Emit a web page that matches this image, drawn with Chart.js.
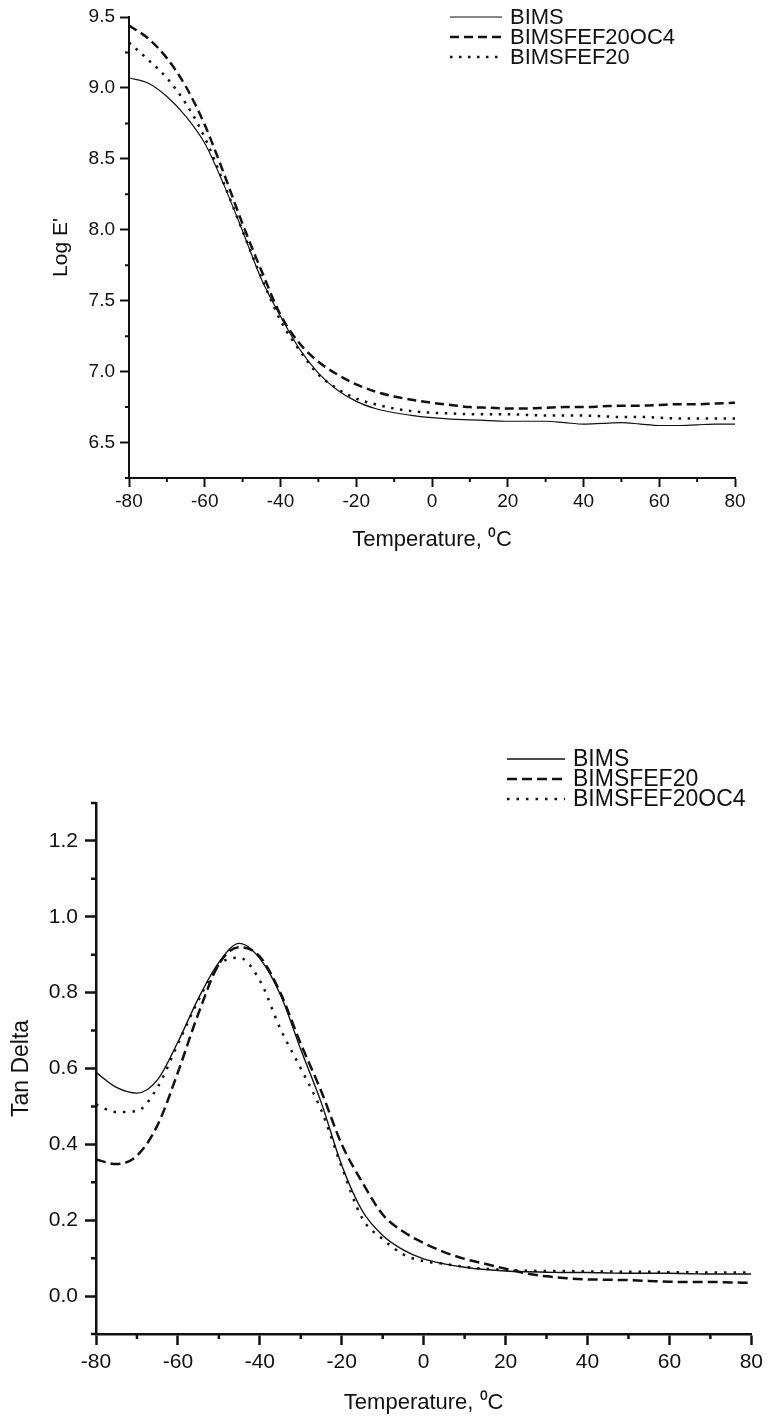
<!DOCTYPE html>
<html>
<head>
<meta charset="utf-8">
<script src="https://cdn.jsdelivr.net/npm/chart.js@4.4.1/dist/chart.umd.min.js"></script>
<style>
  html, body { margin: 0; padding: 0; background: #fff; }
  #wrap { position: relative; width: 768px; height: 1418px; }
  canvas { position: absolute; left: 0; }
  #modulus { top: 0; }
  #tandelta { top: 560px; }
</style>
</head>
<body>
<div id="wrap">
  <canvas id="modulus" width="768" height="553"></canvas>
  <canvas id="tandelta" width="768" height="856"></canvas>
</div>
<script>
// temperature grid, deg C
const temps = [-80, -75, -70, -65, -60, -55, -50, -45, -40, -35, -30, -25, -20, -15, -10, -5,
  0, 5, 10, 15, 20, 25, 30, 35, 40, 45, 50, 55, 60, 65, 70, 75, 80];

// storage modulus, log E'
const logE_BIMS = [9.07, 9.035, 8.94, 8.80, 8.61, 8.32, 7.99, 7.65, 7.39, 7.16, 6.99, 6.87, 6.79,
  6.74, 6.71, 6.69, 6.675, 6.665, 6.66, 6.655, 6.65, 6.65, 6.65, 6.64, 6.63, 6.635, 6.64, 6.63,
  6.62, 6.62, 6.625, 6.63, 6.63];
const logE_OC4 = [9.44, 9.35, 9.21, 9.01, 8.74, 8.40, 8.04, 7.71, 7.40, 7.20, 7.07, 6.98, 6.91,
  6.86, 6.825, 6.80, 6.78, 6.765, 6.75, 6.745, 6.74, 6.74, 6.745, 6.75, 6.75, 6.755, 6.76, 6.76,
  6.765, 6.77, 6.77, 6.775, 6.78];
const logE_FEF20 = [9.32, 9.20, 9.07, 8.89, 8.65, 8.33, 7.99, 7.66, 7.36, 7.15, 6.98, 6.88, 6.81,
  6.77, 6.74, 6.72, 6.71, 6.705, 6.70, 6.70, 6.70, 6.695, 6.69, 6.69, 6.69, 6.685, 6.68, 6.68,
  6.675, 6.67, 6.67, 6.67, 6.67];

// loss factor, tan delta
const tan_BIMS = [0.59, 0.55, 0.535, 0.57, 0.67, 0.785, 0.88, 0.93, 0.89, 0.795, 0.65, 0.51, 0.345,
  0.225, 0.16, 0.122, 0.098, 0.085, 0.076, 0.07, 0.066, 0.064, 0.063, 0.062, 0.062, 0.061, 0.06,
  0.06, 0.06, 0.059, 0.058, 0.058, 0.058];
const tan_FEF20 = [0.36, 0.348, 0.37, 0.45, 0.59, 0.745, 0.875, 0.92, 0.895, 0.80, 0.665, 0.54,
  0.40, 0.30, 0.215, 0.17, 0.14, 0.116, 0.098, 0.085, 0.072, 0.06, 0.052, 0.047, 0.044, 0.043,
  0.042, 0.04, 0.038, 0.037, 0.037, 0.036, 0.035];
const tan_OC4 = [0.505, 0.485, 0.488, 0.55, 0.665, 0.78, 0.873, 0.892, 0.832, 0.705, 0.60, 0.49,
  0.34, 0.205, 0.15, 0.11, 0.092, 0.085, 0.077, 0.072, 0.069, 0.067, 0.066, 0.066, 0.065, 0.065,
  0.064, 0.064, 0.063, 0.063, 0.062, 0.062, 0.062];

// axis tick labels
const tempTicks = [-80, -60, -40, -20, 0, 20, 40, 60, 80];
const logETicks = [6.5, 7.0, 7.5, 8.0, 8.5, 9.0, 9.5];
const tanTicks = [0.0, 0.2, 0.4, 0.6, 0.8, 1.0, 1.2];

const FONT = '"Liberation Sans", Arial, Helvetica, sans-serif';
const INK = '#111';

function points(ys) {
  return temps.map((t, i) => ({ x: t, y: ys[i] }));
}

function series(label, ys, dash, width) {
  return {
    label: label,
    data: points(ys),
    borderColor: INK,
    borderWidth: width,
    borderDash: dash,
    pointRadius: 0,
    fill: false,
    cubicInterpolationMode: 'monotone'
  };
}

// short unlabelled ticks half way between the labelled ones
const minorTicks = {
  id: 'minorTicks',
  afterDraw(chart, args, opts) {
    const ctx = chart.ctx;
    const xs = chart.scales.x, ys = chart.scales.y;
    ctx.save();
    ctx.strokeStyle = INK;
    ctx.lineWidth = opts.width;
    ctx.beginPath();
    const half = (list) => {
      const step = (list[1] - list[0]) / 2;
      const out = [];
      list.forEach(v => { out.push(v - step); out.push(v + step); });
      return out.filter((v, i) => out.indexOf(v) === i);
    };
    half(opts.xMajor).forEach(v => {
      if (v < xs.min - 1e-9 || v > xs.max + 1e-9) return;
      const px = xs.getPixelForValue(v);
      ctx.moveTo(px, xs.top);
      ctx.lineTo(px, xs.top + opts.length);
    });
    half(opts.yMajor).forEach(v => {
      if (v < ys.min - 1e-9 || v > ys.max + 1e-9) return;
      const py = ys.getPixelForValue(v);
      ctx.moveTo(ys.right, py);
      ctx.lineTo(ys.right - opts.length, py);
    });
    ctx.stroke();
    ctx.restore();
  }
};

// line-style key in the upper right
const lineKey = {
  id: 'lineKey',
  afterDraw(chart, args, opts) {
    const ctx = chart.ctx;
    ctx.save();
    ctx.font = opts.size + 'px ' + FONT;
    ctx.textBaseline = 'middle';
    chart.data.datasets.forEach((ds, i) => {
      const y = opts.top + i * opts.rowHeight;
      ctx.setLineDash(ds.borderDash || []);
      ctx.lineWidth = ds.borderWidth;
      ctx.strokeStyle = ds.borderColor;
      ctx.beginPath();
      ctx.moveTo(opts.left, y);
      ctx.lineTo(opts.left + opts.lineLength, y);
      ctx.stroke();
      ctx.setLineDash([]);
      ctx.fillStyle = INK;
      ctx.fillText(ds.label, opts.left + opts.lineLength + opts.gap, y + 1);
    });
    ctx.restore();
  }
};

function axes(o) {
  return {
    x: {
      type: 'linear', min: -80, max: 80,
      afterBuildTicks: s => { s.ticks = tempTicks.map(v => ({ value: v })); },
      afterFit: s => { s.height = o.xHeight; },
      border: { display: true, color: INK, width: o.axisWidth },
      grid: { display: true, drawOnChartArea: false, drawTicks: true,
              tickLength: o.tick, tickWidth: o.axisWidth, tickColor: INK },
      ticks: { color: INK, font: { family: FONT, size: o.tickSize }, padding: o.xPad,
               maxRotation: 0, autoSkip: false, callback: v => String(v) },
      title: { display: true, text: 'Temperature, \u2070C', color: INK,
               font: { family: FONT, size: 22 }, padding: 0 }
    },
    y: {
      type: 'linear', min: o.yMin, max: o.yMax,
      afterBuildTicks: s => { s.ticks = o.yTicks.map(v => ({ value: v })); },
      afterFit: s => { s.width = o.yWidth; },
      border: { display: true, color: INK, width: o.axisWidth },
      grid: { display: true, drawOnChartArea: false, drawTicks: true,
              tickLength: o.tick, tickWidth: o.axisWidth, tickColor: INK },
      ticks: { color: INK, font: { family: FONT, size: o.tickSize }, padding: o.yPad,
               autoSkip: false, callback: v => v.toFixed(1) },
      title: { display: true, text: o.yTitle, color: INK,
               font: { family: FONT, size: o.yTitleSize }, padding: { top: o.yTitleOffset, bottom: 0 } }
    }
  };
}

new Chart(document.getElementById('modulus'), {
  type: 'line',
  data: {
    datasets: [
      series('BIMS', logE_BIMS, [], 1.2),
      series('BIMSFEF20OC4', logE_OC4, [9, 5], 2.5),
      series('BIMSFEF20', logE_FEF20, [2.5, 6.5], 2.5)
    ]
  },
  options: {
    responsive: false,
    animation: false,
    layout: { padding: { top: 17, right: 33, left: 0, bottom: 0 } },
    plugins: {
      legend: { display: false },
      tooltip: { enabled: false },
      minorTicks: { xMajor: tempTicks, yMajor: logETicks, length: 4, width: 2 },
      lineKey: { left: 450, top: 17, rowHeight: 20, lineLength: 52, gap: 8, size: 22 }
    },
    scales: axes({
      xHeight: 75, yWidth: 129, axisWidth: 2, tick: 9, tickSize: 19, xPad: 3, yPad: 5,
      yMin: 6.25, yMax: 9.5, yTicks: logETicks, yTitle: "Log E'", yTitleSize: 21, yTitleOffset: 49
    })
  },
  plugins: [minorTicks, lineKey]
});

new Chart(document.getElementById('tandelta'), {
  type: 'line',
  data: {
    datasets: [
      series('BIMS', tan_BIMS, [], 1.4),
      series('BIMSFEF20', tan_FEF20, [10, 5], 2.5),
      series('BIMSFEF20OC4', tan_OC4, [2.5, 7], 2.5)
    ]
  },
  options: {
    responsive: false,
    animation: false,
    layout: { padding: { top: 243, right: 13, left: 0, bottom: 0 } },
    plugins: {
      legend: { display: false },
      tooltip: { enabled: false },
      minorTicks: { xMajor: tempTicks, yMajor: tanTicks, length: 5, width: 2.5 },
      lineKey: { left: 507, top: 199, rowHeight: 20, lineLength: 58, gap: 8, size: 23 }
    },
    scales: axes({
      xHeight: 82, yWidth: 96, axisWidth: 2.5, tick: 11, tickSize: 21, xPad: 5, yPad: 7,
      yMin: -0.1, yMax: 1.3, yTicks: tanTicks, yTitle: 'Tan Delta', yTitleSize: 23, yTitleOffset: 8
    })
  },
  plugins: [minorTicks, lineKey]
});
</script>
</body>
</html>
